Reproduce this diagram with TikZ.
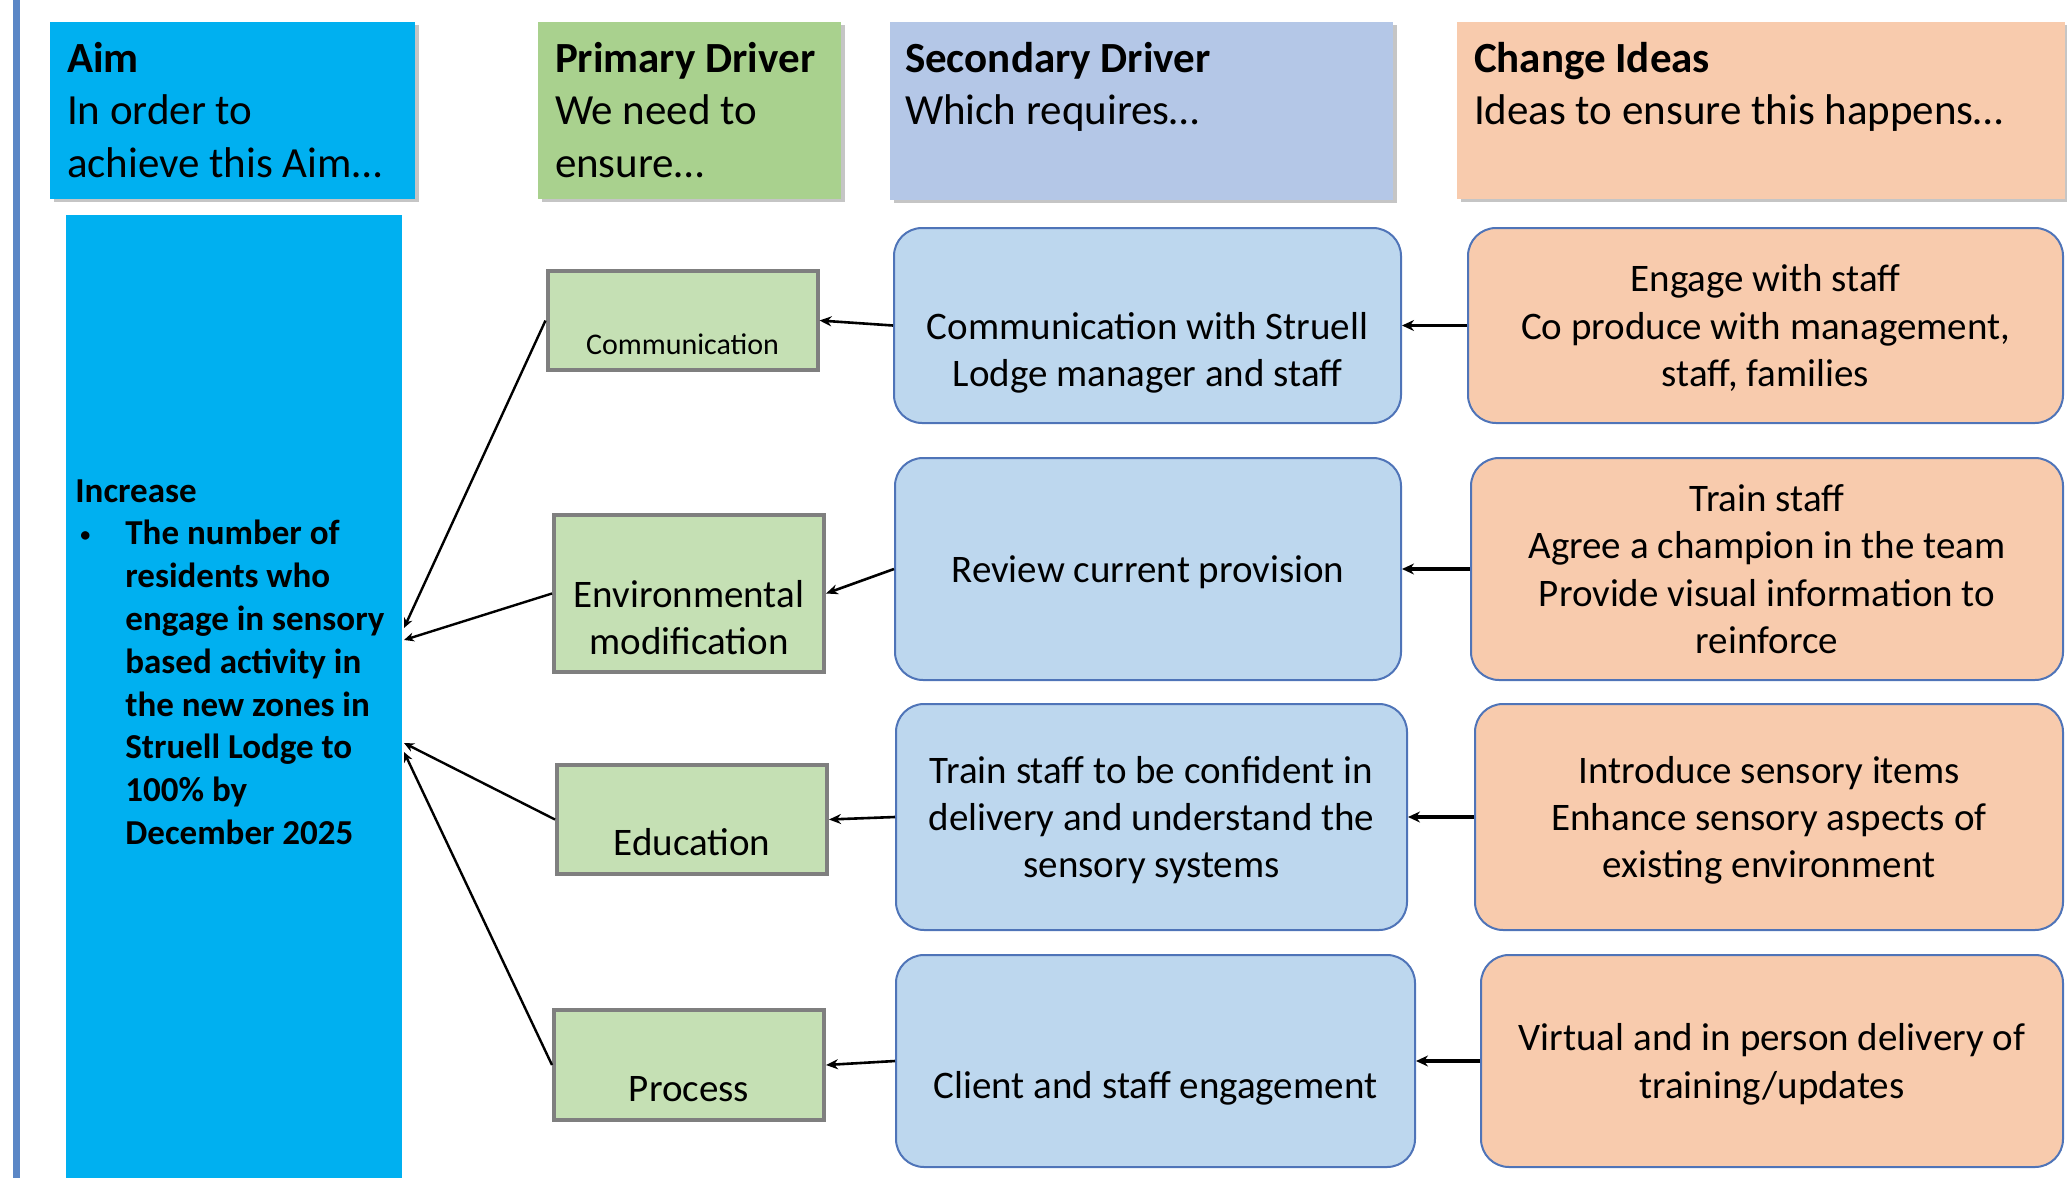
\documentclass[tikz,border=0pt]{standalone}
\usepackage{fontspec}
\setmainfont{Carlito}
\usetikzlibrary{positioning,arrows.meta,shadows}

\definecolor{aimblue}{HTML}{00B0F0}
\definecolor{barblue}{HTML}{5B87C6}
\definecolor{headgreen}{HTML}{A9D18E}
\definecolor{headblue}{HTML}{B4C7E7}
\definecolor{headpeach}{HTML}{F8CBAD}
\definecolor{pdgreen}{HTML}{C5E0B4}
\definecolor{pdgrey}{HTML}{7F7F7F}
\definecolor{sdblue}{HTML}{BDD7EE}
\definecolor{sdedge}{HTML}{4F74B8}
\definecolor{cipeach}{HTML}{F8CBAD}

\begin{document}
\begin{tikzpicture} [
	x=0.5pt,y=-0.5pt,
	align=center,
	headbox/.style={
		rectangle,inner sep=0pt,
		drop shadow={shadow xshift=2pt,shadow yshift=-1.5pt,fill=black!45,opacity=.5}
	},
	headtext/.style={
		inner sep=0pt,align=left,font=\fontsize{21.5}{26.4}\selectfont
	},
	aimtext/.style={
		inner sep=0pt,align=left,anchor=north west,
		font=\bfseries\fontsize{17.5}{21.4}\selectfont
	},
	pdbox/.style={
		rectangle,inner sep=0pt,minimum width=135pt,draw=pdgrey,line width=2pt,
		fill=pdgreen
	},
	sdbox/.style={
		rectangle,inner sep=0pt,rounded corners=14pt,draw=sdedge,line width=1pt,
		fill=sdblue,text depth=0pt,font=\fontsize{19.5}{23.7}\selectfont
	},
	cibox/.style={
		rectangle,inner sep=0pt,rounded corners=14pt,draw=sdedge,line width=1pt,
		fill=cipeach,text depth=0pt,font=\fontsize{19.5}{23.7}\selectfont
	},
	boxtext/.style={
		inner sep=0pt,text depth=0pt,font=\fontsize{19.5}{23.7}\selectfont
	},
	pdlink/.style={-{Stealth[length=5pt,width=4.5pt]},line width=1.2pt},
	sdlink/.style={-{Stealth[length=6pt,width=5pt]},line width=1.3pt},
	cilink/.style={-{Stealth[length=6pt,width=5.5pt]},line width=1.6pt}
]
\useasboundingbox (0,0) rectangle (2067,1178);
\fill [barblue] (13,0) rectangle (20,1178);

% column headers
\node [headbox,fill=aimblue,minimum width=182.5pt,minimum height=88.5pt]	(aimhead) at (232.5,110.5)	{};
\node [headtext]	(aimhead-t)[below right=10pt and 8.5pt of aimhead.north west]	{\textbf{Aim}\\In order to\\achieve this Aim…};
\node [headbox,fill=headgreen,minimum width=151.5pt,minimum height=88.5pt]	(pdhead) at (689.5,110.5)	{};
\node [headtext]	(pdhead-t)[below right=10pt and 8.5pt of pdhead.north west]	{\textbf{Primary Driver}\\We need to\\ensure…};
\node [headbox,fill=headblue,minimum width=251.5pt,minimum height=89pt]	(sdhead) at (1141.5,111)	{};
\node [headtext]	(sdhead-t)[below right=10pt and 7.5pt of sdhead.north west]	{\textbf{Secondary Driver}\\Which requires…};
\node [headbox,fill=headpeach,minimum width=304pt,minimum height=88.5pt]	(cihead) at (1761,110.5)	{};
\node [headtext]	(cihead-t)[below right=10pt and 8.5pt of cihead.north west]	{\textbf{Change Ideas}\\Ideas to ensure this happens…};

% aim
\node [rectangle,inner sep=0pt,fill=aimblue,minimum width=168pt,minimum height=481.5pt]	(aim) at (234,696.5)	{};
\node [aimtext]	(aim-t) at (75,479)	{Increase\\
	\makebox[25pt][l]{\hspace{2.5pt}\raisebox{1.8pt}{\fontsize{10}{10}\selectfont •}}The number of\\
	\hspace*{25pt}residents who\\
	\hspace*{25pt}engage in sensory\\
	\hspace*{25pt}based activity in\\
	\hspace*{25pt}the new zones in\\
	\hspace*{25pt}Struell Lodge to\\
	\hspace*{25pt}100\% by\\
	\hspace*{25pt}December 2025};
\coordinate (aimin1) at (404,628);
\coordinate (aimin2) at (404,640);
\coordinate (aimin3) at (404,743);
\coordinate (aimin4) at (404,752);

% primary drivers
\node [pdbox,minimum height=49.5pt]	(comm) at (682.5,320.5)	{};
\node [inner sep=0pt,font=\fontsize{15}{18}\selectfont]	(comm-t) at ([yshift=-12pt]comm.center)	{Communication};
\node [pdbox,minimum height=78.5pt]	(envmod) at (689,593.5)	{};
\node [boxtext]	(envmod-t) at ([yshift=-12pt]envmod.center)	{Environmental\\modification};
\node [pdbox,minimum height=54.5pt]	(educ) at (692,819.5)	{};
\node [boxtext]	(educ-t) at ([yshift=-11pt]educ.center)	{Education};
\node [pdbox,minimum height=55pt]	(process) at (689,1065)	{};
\node [boxtext]	(process-t) at ([yshift=-12pt]process.center)	{Process};

% secondary drivers
\node [sdbox,minimum width=253.5pt,minimum height=97.5pt]	(commstaff) at (1147.5,325.5)	{};
\node [boxtext]	(commstaff-t) at ([yshift=-12pt]commstaff.center)	{Communication with Struell\\Lodge manager and staff};
\node [sdbox,minimum width=253pt,minimum height=111pt]	(review) at (1148,569)	{Review current provision};
\node [sdbox,minimum width=255.5pt,minimum height=113pt]	(trainstaff) at (1151.5,817)	{Train staff to be confident in\\delivery and understand the\\sensory systems};
\node [sdbox,minimum width=259.5pt,minimum height=106pt]	(engage) at (1155.5,1061)	{};
\node [boxtext]	(engage-t) at ([yshift=-12pt]engage.center)	{Client and staff engagement};

% change ideas
\node [cibox,minimum width=297.5pt,minimum height=97.5pt]	(ideastaff) at (1765.5,325.5)	{Engage with staff\\Co produce with management,\\staff, families};
\node [cibox,minimum width=296pt,minimum height=111pt]	(ideatrain) at (1767,569)	{Train staff\\Agree a champion in the team\\Provide visual information to\\reinforce};
\node [cibox,minimum width=294pt,minimum height=113pt]	(ideasensory) at (1769,817)	{Introduce sensory items\\Enhance sensory aspects of\\existing environment};
\node [cibox,minimum width=291pt,minimum height=106pt]	(ideavirtual) at (1772,1061)	{Virtual and in person delivery of\\training/updates};

% connectors
\path (ideastaff.west) edge [cilink] (commstaff.east)
	(ideatrain.west) edge [cilink] (review.east)
	(ideasensory.west) edge [cilink] (trainstaff.east)
	(ideavirtual.west) edge [cilink] (engage.east);
\path (commstaff.west) edge [sdlink] (comm.east)
	(review.west) edge [sdlink] (envmod.east)
	(trainstaff.west) edge [sdlink] (educ.east)
	(engage.west) edge [sdlink] (process.east);
\path (comm.west) edge [pdlink] (aimin1)
	(envmod.west) edge [pdlink] (aimin2)
	(educ.west) edge [pdlink] (aimin3)
	(process.west) edge [pdlink] (aimin4);
\end{tikzpicture}
\end{document}
